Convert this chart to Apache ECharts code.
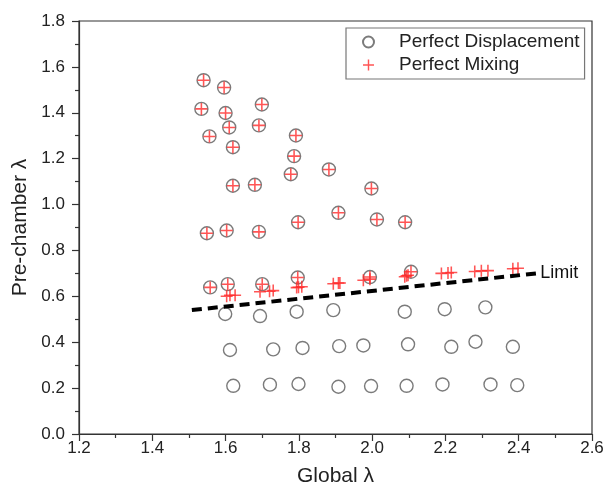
<!DOCTYPE html>
<html>
<head>
<meta charset="utf-8">
<script src="https://cdn.jsdelivr.net/npm/echarts@6/dist/echarts.min.js"></script>
<style>html,body{margin:0;padding:0;background:#fff;}#c{width:607px;height:495px;}</style>
</head>
<body>
<div id="c"></div>
<script>
// Points where both models coincide (circle + cross)
var bothX = [1.540,1.596,1.534,1.600,1.699,1.610,1.691,1.556,1.620,1.792,1.787,1.778,1.882,1.620,1.680,1.998,1.908,2.013,1.549,1.603,1.691,1.798,2.090,1.558,1.606,1.700,1.797,1.994,2.106];
var bothY = [1.542,1.510,1.417,1.399,1.436,1.336,1.345,1.297,1.250,1.301,1.211,1.132,1.153,1.082,1.086,1.070,0.964,0.935,0.875,0.887,0.881,0.923,0.923,0.639,0.653,0.653,0.682,0.684,0.707];
// Perfect displacement only (below the limit)
var dispX = [1.599,1.694,1.794,1.894,2.089,2.198,2.309,1.612,1.730,1.810,1.910,1.976,2.098,2.216,2.282,2.384,1.621,1.721,1.799,1.908,1.997,2.094,2.192,2.323,2.396];
var dispY = [0.523,0.514,0.533,0.540,0.533,0.544,0.552,0.366,0.369,0.375,0.383,0.386,0.391,0.380,0.402,0.380,0.210,0.215,0.218,0.206,0.209,0.210,0.216,0.216,0.213];
// Perfect mixing only (near the limit)
var mixX = [1.603,1.612,1.626,1.694,1.720,1.730,1.794,1.799,1.808,1.894,1.908,1.912,1.976,1.994,2.089,2.094,2.098,2.189,2.207,2.216,2.280,2.298,2.316,2.384,2.398];
var mixY = [0.600,0.605,0.605,0.620,0.622,0.625,0.638,0.640,0.642,0.655,0.658,0.658,0.670,0.675,0.685,0.690,0.692,0.700,0.702,0.704,0.708,0.711,0.712,0.720,0.722];
// Limit line
var limitX = [1.508, 2.448];
var limitY = [0.540, 0.700];

var FONT = '"Liberation Sans", Arial, sans-serif';
function pairs(xs, ys){ return xs.map(function(x,i){ return [x, ys[i]]; }); }
var t = 0.13;
var crossPath = 'path://M' + (-t) + ',-1 L' + t + ',-1 L' + t + ',' + (-t) + ' L1,' + (-t) + ' L1,' + t + ' L' + t + ',' + t + ' L' + t + ',1 L' + (-t) + ',1 L' + (-t) + ',' + t + ' L-1,' + t + ' L-1,' + (-t) + ' L' + (-t) + ',' + (-t) + ' Z';

var chart = echarts.init(document.getElementById('c'), null, {renderer:'canvas'});
chart.setOption({
  animation: false,
  backgroundColor: '#fff',
  grid: {left: 79, right: 15, top: 21, bottom: 61, show: true, borderColor: '#333', borderWidth: 1.2, backgroundColor: 'transparent'},
  xAxis: {
    type: 'value', min: 1.2, max: 2.6, interval: 0.2,
    name: 'Global λ', nameLocation: 'middle', nameGap: 32,
    nameTextStyle: {fontFamily: FONT, fontSize: 21, color: '#222'},
    axisLine: {show: true, onZero: false, lineStyle: {color: '#333', width: 1.2}},
    axisTick: {show: true, inside: false, length: 7, lineStyle: {color: '#333', width: 1.2}},
    minorTick: {show: true, splitNumber: 2, length: 4, lineStyle: {color: '#333', width: 1.2}},
    splitLine: {show: false},
    axisLabel: {fontFamily: FONT, fontSize: 17, color: '#222', margin: 6, formatter: function(v){ return v.toFixed(1); }}
  },
  yAxis: {
    type: 'value', min: 0, max: 1.8, interval: 0.2,
    name: 'Pre-chamber λ', nameLocation: 'middle', nameGap: 37, nameRotate: 90,
    nameTextStyle: {fontFamily: FONT, fontSize: 21, color: '#222'},
    axisLine: {show: true, onZero: false, lineStyle: {color: '#333', width: 1.2}},
    axisTick: {show: true, inside: false, length: 7, lineStyle: {color: '#333', width: 1.2}},
    minorTick: {show: true, splitNumber: 2, length: 4, lineStyle: {color: '#333', width: 1.2}},
    splitLine: {show: false},
    axisLabel: {fontFamily: FONT, fontSize: 17, color: '#222', margin: 14, formatter: function(v){ return v.toFixed(1); }}
  },
  legend: {
    data: ['Perfect Displacement', 'Perfect Mixing'],
    orient: 'vertical', left: 346, top: 28,
    padding: [4, 5, 4, 16], itemGap: 3,
    itemWidth: 11, itemHeight: 11,
    borderColor: '#777', borderWidth: 1.2,
    textStyle: {fontFamily: FONT, fontSize: 19, color: '#222', lineHeight: 20, padding: [0, 0, 0, 20]}
  },
  series: [
    {
      name: 'Perfect Displacement', type: 'scatter', symbol: 'circle', symbolSize: 13,
      itemStyle: {color: 'rgba(255,255,255,0)', borderColor: '#5a5a5a', borderWidth: 1.4},
      data: pairs(bothX, bothY).concat(pairs(dispX, dispY)), z: 2
    },
    {
      name: 'Perfect Mixing', type: 'scatter', symbol: crossPath, symbolSize: 12,
      itemStyle: {color: '#ff2a2a', borderWidth: 0},
      data: pairs(bothX, bothY).concat(pairs(mixX, mixY)), z: 3
    },
    {
      name: 'Limit', type: 'line', symbol: 'none', z: 4,
      lineStyle: {color: '#000', width: 4, type: [10, 6]},
      data: pairs(limitX, limitY),
      endLabel: {show: true, formatter: 'Limit', fontFamily: FONT, fontSize: 18, color: '#111', distance: 4}
    }
  ]
});
</script>
</body>
</html>
